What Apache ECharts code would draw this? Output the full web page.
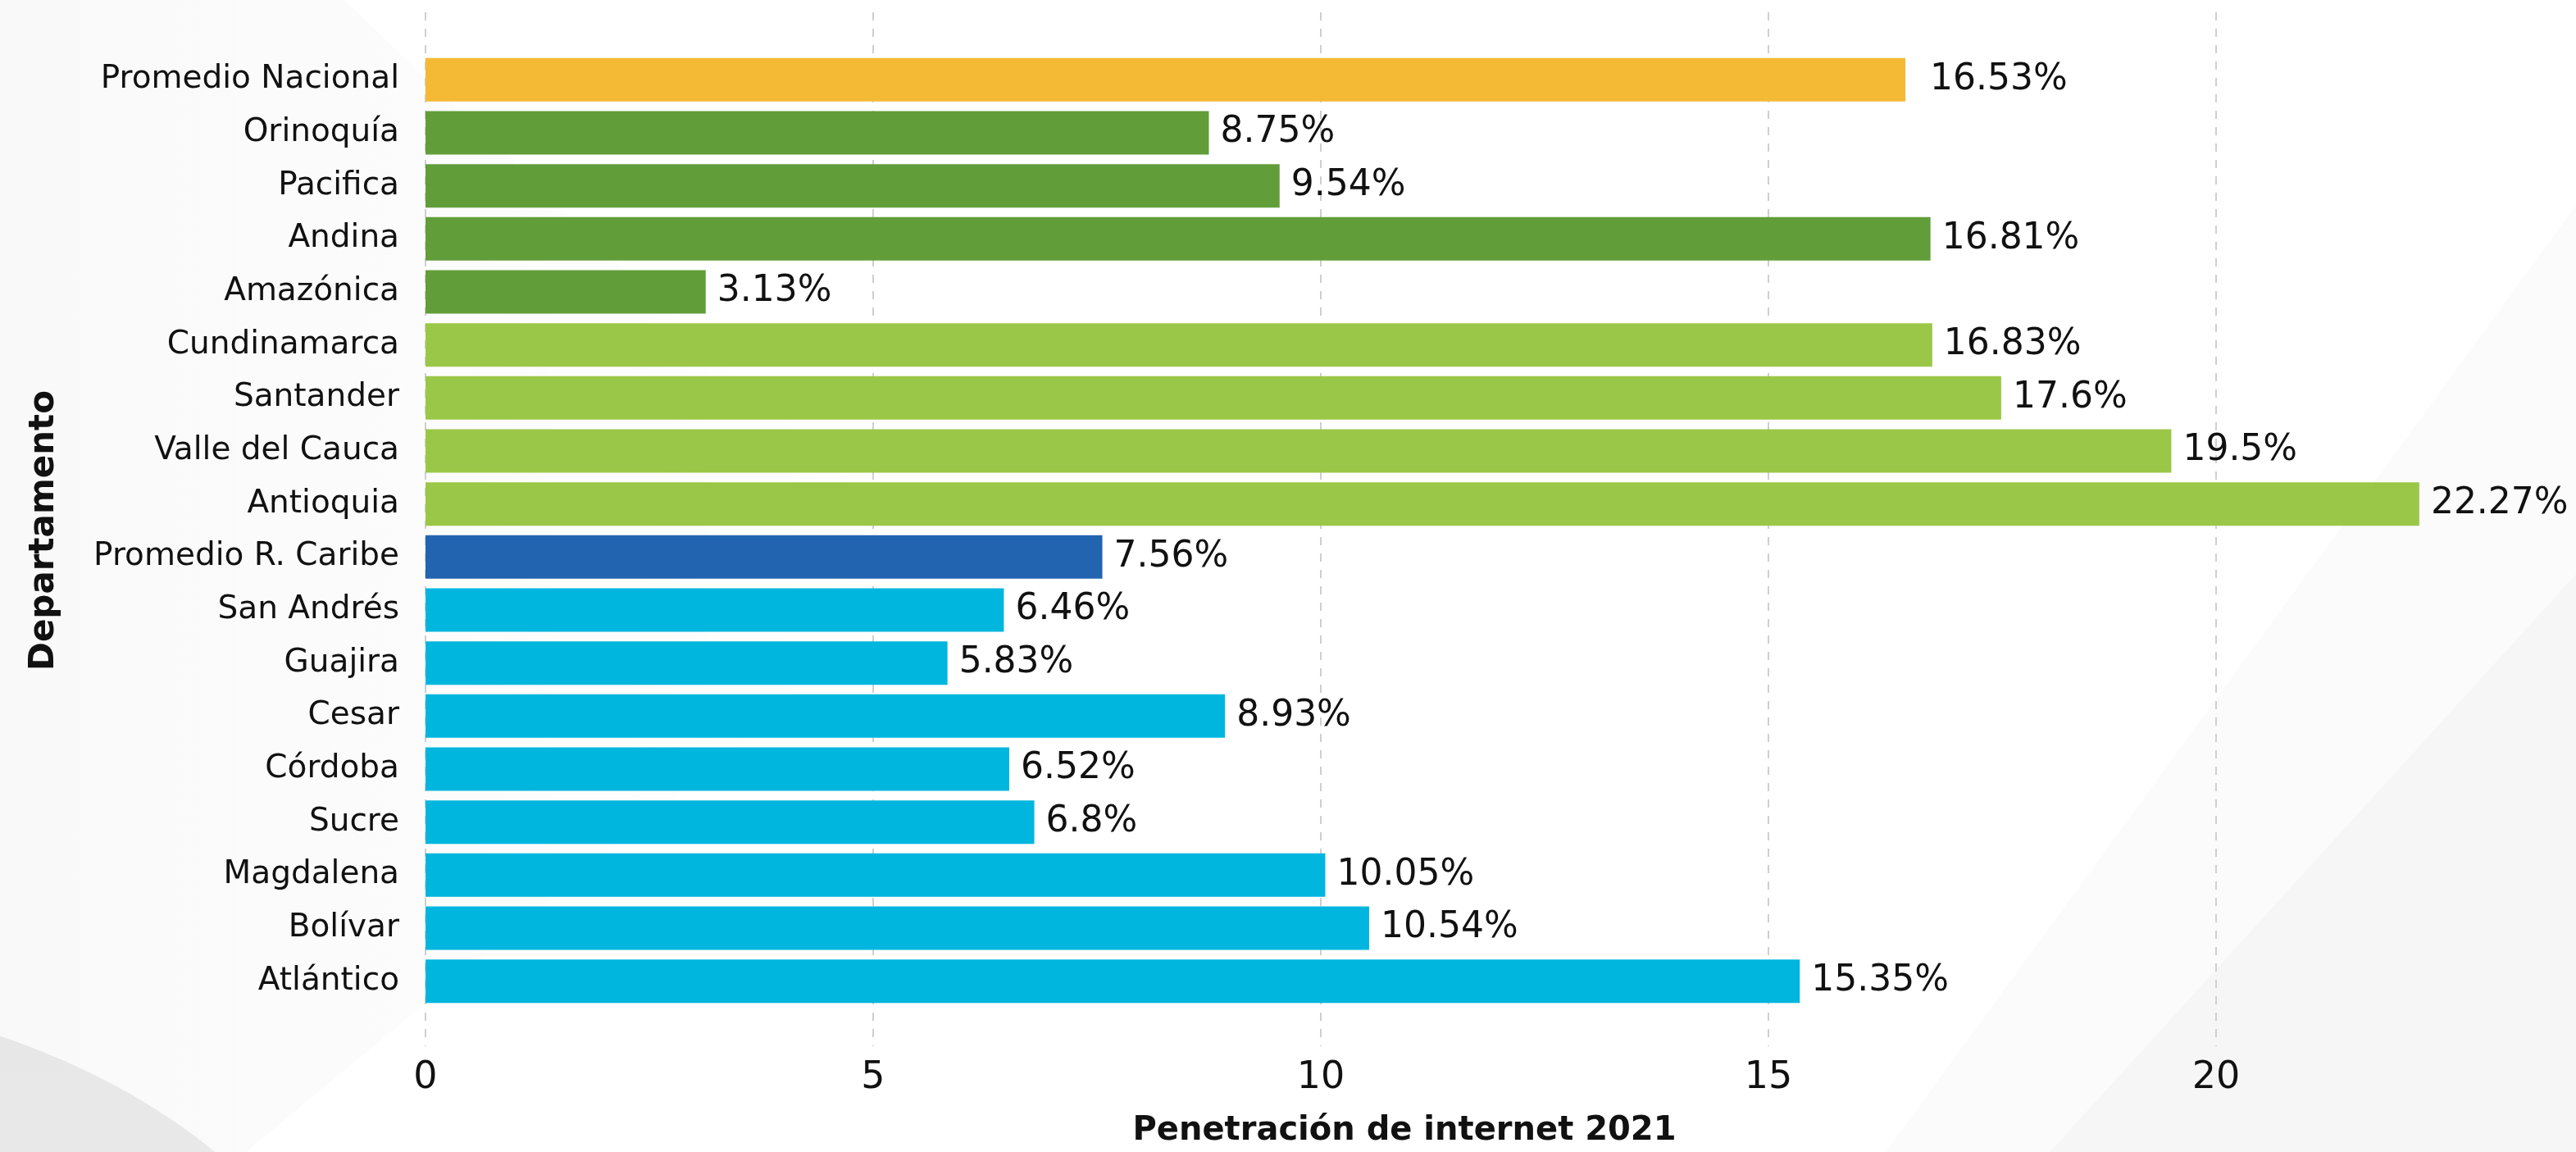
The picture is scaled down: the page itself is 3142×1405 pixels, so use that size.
<!DOCTYPE html>
<html>
<head>
<meta charset="utf-8">
<title>Penetración de internet 2021</title>
<script src="https://cdn.jsdelivr.net/npm/echarts@6/dist/echarts.min.js"></script>
<style>
  html, body { margin: 0; padding: 0; background: #fff; }
  #chart { width: 3142px; height: 1405px; }
</style>
</head>
<body>
<div id="chart"></div>
<script>
// categorias de arriba hacia abajo
const departamentos = [
  "Promedio Nacional", "Orinoquía", "Pacifica", "Andina", "Amazónica",
  "Cundinamarca", "Santander", "Valle del Cauca", "Antioquia",
  "Promedio R. Caribe", "San Andrés", "Guajira", "Cesar", "Córdoba",
  "Sucre", "Magdalena", "Bolívar", "Atlántico"
];
const penetracion = [
  16.53, 8.75, 9.54, 16.81, 3.13,
  16.83, 17.6, 19.5, 22.27,
  7.56, 6.46, 5.83, 8.93, 6.52,
  6.8, 10.05, 10.54, 15.35
];
// tipo de cada fila (define el color)
const grupos = [
  "nacional", "region", "region", "region", "region",
  "andino", "andino", "andino", "andino",
  "caribe", "depto", "depto", "depto", "depto",
  "depto", "depto", "depto", "depto"
];
const ticksX = [0, 5, 10, 15, 20];

const coloresGrupo = {
  nacional: "#F4B935",
  region: "#619E3A",
  andino: "#9BC748",
  caribe: "#2264B0",
  depto: "#00B6DE",
};

const chart = echarts.init(document.getElementById("chart"));

const option = {
  backgroundColor: "#ffffff",
  textStyle: { fontFamily: "DejaVu Sans", color: "#111" },
  animation: false,
  // fondo decorativo (muy suave)
  graphic: [
    {
      type: "polygon", z: -10, silent: true,
      shape: { points: [[0, 0], [420, 0], [1150, 700], [300, 1405], [0, 1405]] },
      style: {
        fill: new echarts.graphic.LinearGradient(0, 0, 1, 0, [
          { offset: 0, color: "rgba(0,0,0,0.025)" },
          { offset: 1, color: "rgba(0,0,0,0)" },
        ]),
      },
    },
    {
      type: "polygon", z: -10, silent: true,
      shape: { points: [[2500, 1405], [3142, 700], [3142, 1405]] },
      style: { fill: "rgba(0,0,0,0.018)" },
    },
    {
      type: "polygon", z: -10, silent: true,
      shape: { points: [[2300, 1405], [3142, 250], [3142, 1405]] },
      style: { fill: "rgba(0,0,0,0.015)" },
    },
    {
      type: "ellipse", z: -9, silent: true,
      shape: { cx: -400, cy: 1700, rx: 820, ry: 500 },
      style: {
        fill: new echarts.graphic.LinearGradient(0, 0, 0, 1, [
          { offset: 0, color: "#e6e6e6" },
          { offset: 1, color: "#f3f3f3" },
        ]),
      },
    },
  ],
  grid: [
    // lineas guia
    { left: 519, right: 439, top: 15, bottom: 129, outerBoundsMode: "none" },
    // barras
    { left: 519, right: 439, top: 65, bottom: 176, outerBoundsMode: "none" },
  ],
  xAxis: [
    {
      gridIndex: 0,
      type: "value",
      min: ticksX[0],
      max: ticksX[ticksX.length - 1],
      interval: 5,
      axisLine: { show: false },
      axisTick: { show: false },
      axisLabel: { fontSize: 46, color: "#111", margin: 16 },
      splitLine: {
        show: true,
        lineStyle: { color: "#cfcfcf", width: 2, type: [10, 10] },
      },
      name: "Penetración de internet 2021",
      nameLocation: "middle",
      nameGap: 84,
      nameTextStyle: {
        fontSize: 40,
        fontWeight: "bold",
        color: "#111",
        padding: [0, 0, 0, 204],
      },
    },
    {
      gridIndex: 1,
      type: "value",
      min: 0,
      max: 20,
      show: false,
    },
  ],
  yAxis: [
    { gridIndex: 0, type: "value", show: false },
    {
      gridIndex: 1,
      type: "category",
      data: departamentos,
      inverse: true,
      axisLine: { show: false },
      axisTick: { show: false },
      axisLabel: { fontSize: 39, color: "#111", margin: 32 },
      name: "Departamento",
      nameLocation: "middle",
      nameGap: 444,
      nameTextStyle: { fontSize: 42, fontWeight: "bold", color: "#111" },
    },
  ],
  series: [
    {
      type: "bar",
      xAxisIndex: 1,
      yAxisIndex: 1,
      barWidth: 53,
      clip: false,
      data: penetracion.map((v, i) => ({
        value: v,
        itemStyle: { color: coloresGrupo[grupos[i]] },
        // el promedio nacional tiene la etiqueta un poco mas separada
        label: i === 0 ? { distance: 30 } : undefined,
      })),
      label: {
        show: true,
        position: "right",
        distance: 14,
        fontSize: 44,
        color: "#111",
        formatter: (p) => p.value + "%",
      },
    },
  ],
};

chart.setOption(option);
window.addEventListener("resize", () => chart.resize());
</script>
</body>
</html>
